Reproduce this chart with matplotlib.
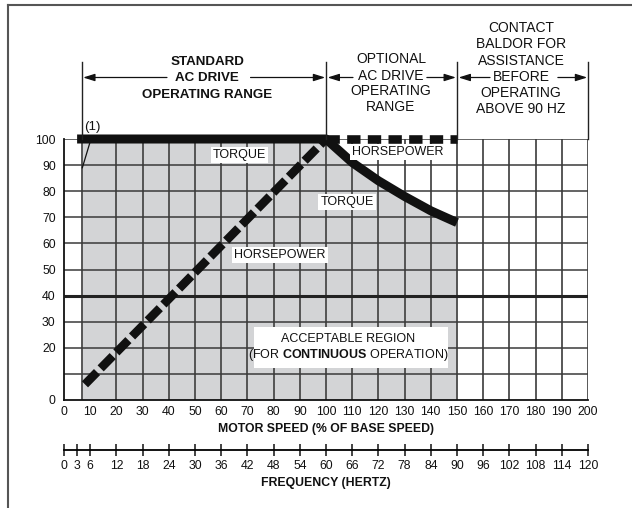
import numpy as np
import matplotlib
matplotlib.use("Agg")
import matplotlib.pyplot as plt
import matplotlib.transforms as mtransforms
from matplotlib.lines import Line2D

# ---------------- data ----------------
speed_ticks = list(range(0, 201, 10))                 # motor speed % of base
y_ticks = [0, 20, 30, 40, 50, 60, 70, 80, 90, 100]     # labelled y values
freq_ticks = [0, 3, 6, 12, 18, 24, 30, 36, 42, 48, 54, 60, 66, 72, 78, 84,
              90, 96, 102, 108, 114, 120]               # hertz
grid_x = [7, 20, 30, 40, 50, 60, 70, 80, 90, 100, 110, 120, 130, 140, 150,
          160, 170, 180, 190, 200]
grid_y = [10, 20, 30, 40, 50, 60, 70, 80, 90, 100]
region_bounds = [7, 100, 150, 200]

torque_speed = np.array([5, 100, 110, 120, 130, 140, 150])
torque_value = np.array([100, 100, 91, 84, 78, 72.5, 68])

hp_rise_speed = [8, 100]
hp_rise_value = [6, 100]
hp_flat_speed = [100, 150]
hp_flat_value = [100, 100]

note_speed = [7, 10]
note_value = [89, 99]

# ---------------- fonts ----------------
REG = "Liberation Sans"
plt.rcParams["font.family"] = [REG, "DejaVu Sans"]
plt.rcParams["mathtext.fontset"] = "custom"
plt.rcParams["mathtext.rm"] = REG
plt.rcParams["mathtext.bf"] = REG + ":bold"

W, H = 632, 508
fig = plt.figure(figsize=(W / 100, H / 100), dpi=100)
ax = fig.add_axes([64 / W, 108 / H, 524 / W, 261 / H])
ax.set_xlim(0, 200)
ax.set_ylim(0, 100)

GRAY = "#d3d4d6"
GRID = "#3a3a3a"
INK = "#111111"

# shaded acceptable region
fx = np.concatenate([[region_bounds[0]], torque_speed[torque_speed > region_bounds[0]]])
fy = np.interp(fx, torque_speed, torque_value)
ax.fill_between(fx, 0, fy, color=GRAY, lw=0, zorder=0.5)

# grid
ax.vlines(grid_x, 0, 100, color="#4a4a4a", lw=1.3, zorder=1)
for gy in grid_y:
    ax.hlines(gy, 0, 200, color="#222222" if gy == 40 else GRID,
              lw=2.2 if gy == 40 else 1.1, zorder=1)

# curves
ax.plot(torque_speed, torque_value, color=INK, lw=6.5,
        solid_capstyle="butt", solid_joinstyle="round", zorder=3, clip_on=False)
ax.plot(hp_rise_speed, hp_rise_value, color=INK, lw=6.2,
        dashes=(2.0, 0.6), dash_capstyle="butt", zorder=3, clip_on=False)
ax.plot(hp_flat_speed, hp_flat_value, color=INK, lw=6.2,
        dashes=(1.55, 0.85), dash_capstyle="butt", zorder=3, clip_on=False)
ax.plot(note_speed, note_value, color=INK, lw=0.9, zorder=3)

# axes styling
for s in ["top", "right"]:
    ax.spines[s].set_visible(False)
for s in ["left", "bottom"]:
    ax.spines[s].set_linewidth(1.3)
    ax.spines[s].set_color(INK)
ax.set_xticks(speed_ticks)
ax.set_xticklabels([str(v) for v in speed_ticks])
ax.set_yticks(y_ticks)
ax.set_yticklabels([str(v) for v in y_ticks])
ax.tick_params(axis="both", length=0, labelsize=8.8, colors=INK)
ax.tick_params(axis="x", pad=4)
ax.tick_params(axis="y", pad=6)
ax.set_xlabel("MOTOR SPEED (% OF BASE SPEED)", fontsize=8.8, fontweight="bold",
              labelpad=4, color=INK)

# frequency axis
sec = ax.secondary_xaxis(-50 / 261, functions=(lambda x: x * 0.6, lambda f: f / 0.6))
sec.set_xticks(freq_ticks)
sec.set_xticklabels([str(v) for v in freq_ticks])
sec.tick_params(direction="inout", length=9, width=1.1, pad=3, labelsize=8.8,
                colors=INK)
sec.spines["bottom"].set_linewidth(1.3)
sec.set_xlabel("FREQUENCY (HERTZ)", fontsize=8.8, fontweight="bold", labelpad=3,
               color=INK)

# in-plot labels
box = dict(facecolor="white", edgecolor="none", pad=1.5)
lab_kw = dict(fontsize=9.0, ha="center", va="center", zorder=5, color=INK)
ax.text(67, 94, "TORQUE", bbox=box, **lab_kw)
ax.text(127.5, 95, "HORSEPOWER", bbox=box, **lab_kw)
ax.text(108, 75.8, "TORQUE", bbox=box, **lab_kw)
ax.text(82.5, 55.5, "HORSEPOWER", bbox=box, **lab_kw)
ax.text(108.5, 23.5, "ACCEPTABLE REGION", **lab_kw)
ax.text(108.5, 17.3, "(FOR $\\bf{CONTINUOUS}$ OPERATION)", **lab_kw)
ax.add_patch(plt.Rectangle((72.7, 12.3), 73.8, 15.6, facecolor="white",
                           edgecolor="none", zorder=4))
ax.text(7.8, 104.6, "(1)", fontsize=9.5, ha="left", va="center", color=INK)

# header region boundaries (x in data, y in pixels from top)
bt = mtransforms.blended_transform_factory(
    ax.transData, mtransforms.Affine2D().scale(1, -1).translate(0, H))
for b in region_bounds:
    fig.add_artist(Line2D([b, b], [62, 139], transform=bt, color="#222222", lw=1.0))


def head(lines, xc, ys, weight):
    for s, y in zip(lines, ys):
        fig.text(xc / W, 1 - y / H, s, ha="center", va="center",
                 fontsize=10 if weight == "normal" else 9.6,
                 fontweight=weight, color=INK)


def arrow(x_tail, x_head, y):
    ax.annotate("", xy=(x_head, y), xycoords=bt, xytext=(x_tail, y), textcoords=bt,
                arrowprops=dict(arrowstyle="-|>,head_length=0.7,head_width=0.22",
                                color=INK, lw=0.9, shrinkA=0, shrinkB=0))


head(["STANDARD", "AC DRIVE", "OPERATING RANGE"], 207, [62, 78, 95], "bold")
arrow(39.3, 7.3, 77.5)
arrow(71.2, 99.7, 77.5)
head(["OPTIONAL", "AC DRIVE", "OPERATING", "RANGE"], 391, [59, 76, 91, 107], "normal")
arrow(110.3, 100.6, 77.5)
arrow(138.5, 149.6, 77.5)
head(["CONTACT", "BALDOR FOR", "ASSISTANCE", "BEFORE", "OPERATING", "ABOVE 90 HZ"],
     521, [28, 44, 61, 77, 93, 109], "normal")
arrow(162.6, 150.6, 77.5)
arrow(188.5, 199.7, 77.5)

# outer frame (top + left)
fig.add_artist(Line2D([8 / W, 8 / W], [0, 1 - 5 / H], transform=fig.transFigure,
                      color="#555555", lw=1.5))
fig.add_artist(Line2D([8 / W, 1], [1 - 5 / H, 1 - 5 / H], transform=fig.transFigure,
                      color="#555555", lw=1.5))

fig.savefig("out.png", dpi=100)
